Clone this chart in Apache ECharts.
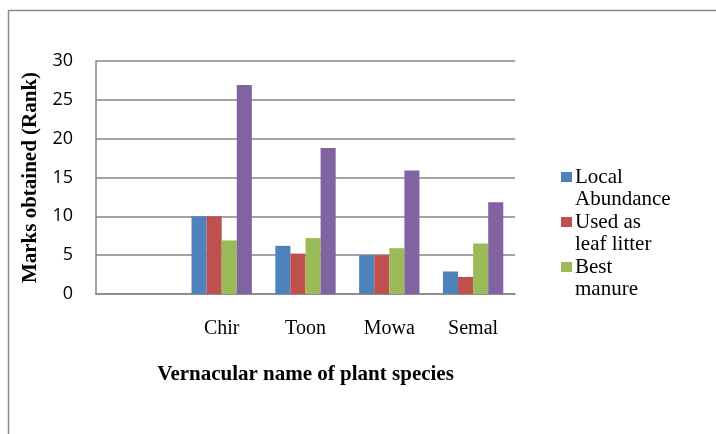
<!DOCTYPE html>
<html><head><meta charset="utf-8">
<script src="https://cdn.jsdelivr.net/npm/echarts@6/dist/echarts.min.js"></script>
<style>html,body{margin:0;padding:0;background:#fff}#c{width:716px;height:434px}</style>
</head><body><div id="c"></div>
<script>
const categories = ['', 'Chir', 'Toon', 'Mowa', 'Semal'];
const localAbundance = [null, 10, 6.2, 5, 2.9];
const leafLitter = [null, 10, 5.2, 5, 2.2];
const bestManure = [null, 6.9, 7.2, 5.9, 6.5];
const total = [null, 26.9, 18.8, 15.9, 11.8];
const yTicks = {min: 0, max: 30, interval: 5};
const seriesNames = ['Local\nAbundance', 'Used as\nleaf litter', 'Best\nmanure', 'Total'];
const colors = ['#4F81BD', '#C0504D', '#9BBB59', '#8064A2'];
const values = [localAbundance, leafLitter, bestManure, total];

const serif = "'Liberation Serif', 'Times New Roman', serif";
const chart = echarts.init(document.getElementById('c'), null, {renderer: 'canvas'});
chart.setOption({
  animation: false,
  backgroundColor: '#fff',
  textStyle: {fontFamily: serif},
  graphic: [{type: 'rect', shape: {x: 8.5, y: 10.5, width: 760, height: 460}, style: {fill: 'none', stroke: '#8a8a8a', lineWidth: 1.5}, silent: true}],
  grid: {left: 96, right: 201, top: 61, bottom: 140},
  legend: {
    data: seriesNames.slice(0, 3),
    orient: 'vertical', left: 556, top: 139,
    itemWidth: 11, itemHeight: 10, itemGap: -21,
    icon: 'rect',
    formatter: n => '{t|}\n' + n.split('\n').map(s => '{t|' + s + '}').join('\n'),
    textStyle: {fontFamily: serif, fontSize: 21, color: '#000', lineHeight: 22, padding: [0, 0, 0, -2],
      rich: {t: {fontFamily: serif, fontSize: 21, lineHeight: 22, color: '#000'}}}
  },
  xAxis: {
    type: 'category', data: categories,
    axisLine: {lineStyle: {color: '#868686', width: 1.5}},
    axisTick: {show: false},
    axisLabel: {fontFamily: serif, fontSize: 20, color: '#000', margin: 25},
    name: 'Vernacular name of plant species', nameLocation: 'middle', nameGap: 70,
    nameTextStyle: {fontFamily: serif, fontSize: 21, fontWeight: 'bold', color: '#000'}
  },
  yAxis: {
    type: 'value', min: yTicks.min, max: yTicks.max, interval: yTicks.interval,
    axisLine: {show: true, lineStyle: {color: '#868686', width: 1.5}},
    axisTick: {show: false},
    splitLine: {lineStyle: {color: '#868686', width: 1.5}},
    axisLabel: {fontFamily: 'Open Sans', fontSize: 18, color: '#000', margin: 23},
    name: 'Marks obtained (Rank)', nameLocation: 'middle', nameGap: 55,
    nameTextStyle: {fontFamily: serif, fontSize: 21, fontWeight: 'bold', color: '#000'}
  },
  series: values.map((v, i) => ({
    name: seriesNames[i], type: 'bar', data: v,
    barGap: '0%', barCategoryGap: '28%',
    itemStyle: {color: colors[i]}
  }))
});
</script></body></html>
